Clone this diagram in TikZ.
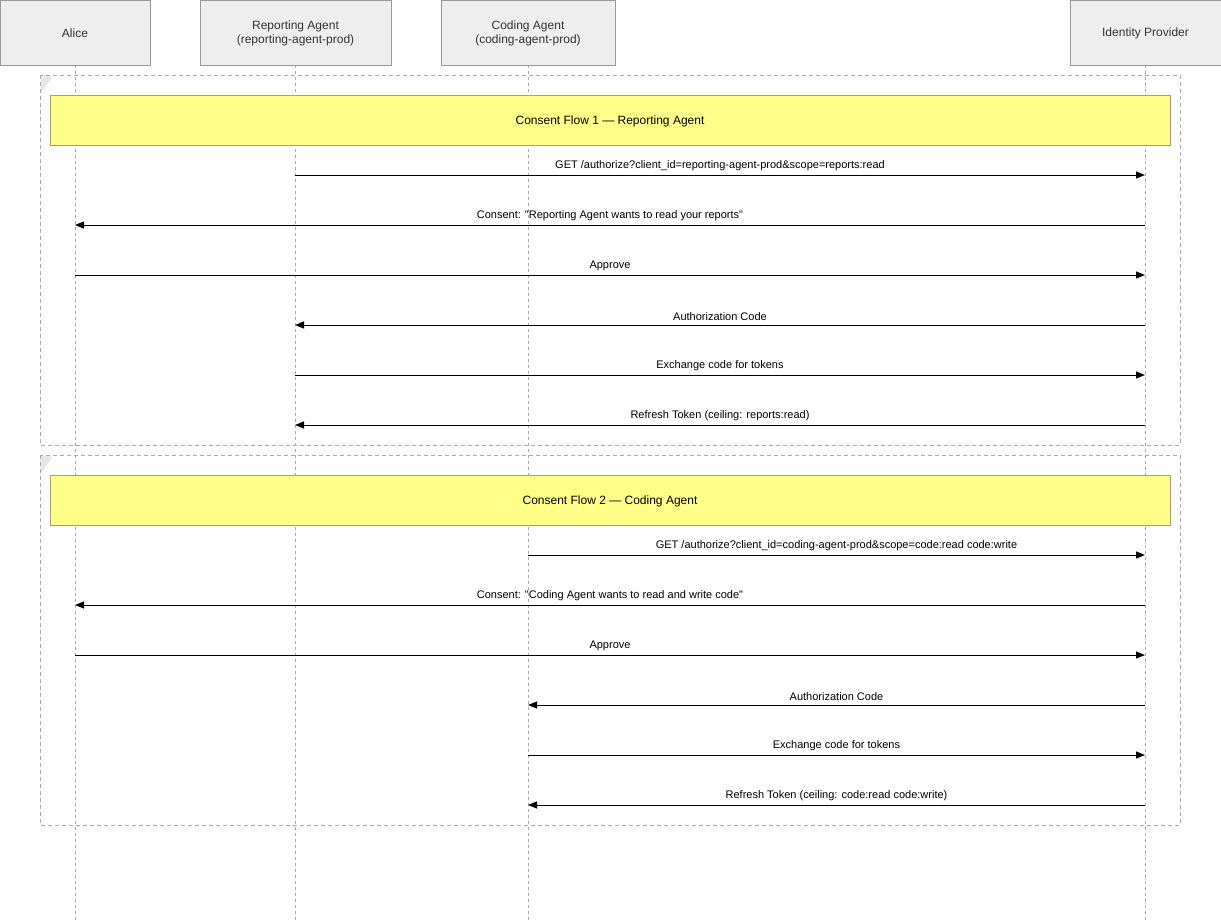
\documentclass[tikz,border=0pt]{standalone}
\usepackage{fontspec}
\setmainfont{Liberation Sans}
\usetikzlibrary{arrows.meta}
\definecolor{hdrfill}{HTML}{EEEEEE}
\definecolor{hdrdraw}{HTML}{999999}
\definecolor{lifec}{HTML}{AAAAAA}
\definecolor{foldc}{HTML}{E6E6E6}
\definecolor{notefill}{HTML}{FFFF88}
\definecolor{notedraw}{HTML}{A8A070}
\definecolor{txt}{HTML}{333333}
\tikzset{
  hdr/.style={draw=hdrdraw, fill=hdrfill, line width=0.9pt, inner sep=0pt, minimum height=65pt},
  hdrtxt/.style={align=center, text=txt, font=\fontsize{12}{14}\selectfont, inner sep=0pt},
  life/.style={draw=lifec, line width=0.9pt, dash pattern=on 3pt off 3pt},
  frm/.style={draw=lifec, line width=0.9pt, dash pattern=on 4pt off 3pt},
  note/.style={draw=notedraw, fill=notefill, line width=0.9pt, minimum width=1120pt, minimum height=50pt},
  notetxt/.style={text=black, font=\fontsize{12}{14}\selectfont},
  msg/.style={draw=black, line width=1pt, -{Triangle[length=9pt,width=7pt]}},
  lbl/.style={font=\fontsize{11}{13}\selectfont, text=black, inner sep=0pt, above=3.5pt},
}
\begin{document}
\begin{tikzpicture}[x=1pt,y=-1pt]
\useasboundingbox (0,0) rectangle (1221,921);
% lifeline coordinates
\coordinate (aT) at (75,65);   \coordinate (aB) at (75,921);
\coordinate (rT) at (295,65);  \coordinate (rB) at (295,921);
\coordinate (cT) at (528,65);  \coordinate (cB) at (528,921);
\coordinate (iT) at (1145,65); \coordinate (iB) at (1145,921);
\draw[life] (aT) -- (aB);
\draw[life] (rT) -- (rB);
\draw[life] (cT) -- (cB);
\draw[life] (iT) -- (iB);
% headers
\node[hdr, minimum width=150pt] (alice) at (75,32.5) {};
\node[hdr, minimum width=191pt] (rep) at (295.5,32.5) {};
\node[hdr, minimum width=174pt] (cod) at (528,32.5) {};
\node[hdr, minimum width=151pt] (idp) at (1145.5,32.5) {};
\node[hdrtxt] (alicet) at (75,33.5) {Alice};
\node[hdrtxt] (rept) at (295.5,33.5) {Reporting Agent\\(reporting-agent-prod)};
\node[hdrtxt] (codt) at (528,33.5) {Coding Agent\\(coding-agent-prod)};
\node[hdrtxt] (idpt) at (1145.5,33.5) {Identity Provider};
% frames
\foreach \t/\b in {75/445, 455/825}{
  \fill[foldc] (40.5,\t+0.5) -- (51,\t+0.5) -- (51,\t+4) -- (42,\t+17) -- (40.5,\t+17) -- cycle;
  \draw[frm] (40,\t) rectangle (1180,\b);
}
% notes
\node[note] (n1) at (610,120) {};
\node[notetxt] (t1) at (610,121) {Consent Flow 1 — Reporting Agent};
\node[note] (n2) at (610,500) {};
\node[notetxt] (t2) at (610,501) {Consent Flow 2 — Coding Agent};
% message coordinates
\foreach \y [count=\i] in {175,225,275,325,375,425,555,605,655,705,755,805}{
  \coordinate (a\i) at (75,\y);
  \coordinate (r\i) at (295,\y);
  \coordinate (c\i) at (528,\y);
  \coordinate (i\i) at (1145,\y);
}
% flow 1
\draw[msg] (r1) -- node[lbl] {GET /authorize?client\_id=reporting-agent-prod\&scope=reports:read} (i1);
\draw[msg] (i2) -- node[lbl] {Consent: \textquotedbl Reporting Agent wants to read your reports\textquotedbl} (a2);
\draw[msg] (a3) -- node[lbl] {Approve} (i3);
\draw[msg] (i4) -- node[lbl] {Authorization Code} (r4);
\draw[msg] (r5) -- node[lbl] {Exchange code for tokens} (i5);
\draw[msg] (i6) -- node[lbl] {Refresh Token (ceiling: reports:read)} (r6);
% flow 2
\draw[msg] (c7) -- node[lbl] {GET /authorize?client\_id=coding-agent-prod\&scope=code:read code:write} (i7);
\draw[msg] (i8) -- node[lbl] {Consent: \textquotedbl Coding Agent wants to read and write code\textquotedbl} (a8);
\draw[msg] (a9) -- node[lbl] {Approve} (i9);
\draw[msg] (i10) -- node[lbl] {Authorization Code} (c10);
\draw[msg] (c11) -- node[lbl] {Exchange code for tokens} (i11);
\draw[msg] (i12) -- node[lbl] {Refresh Token (ceiling: code:read code:write)} (c12);
\end{tikzpicture}
\end{document}
